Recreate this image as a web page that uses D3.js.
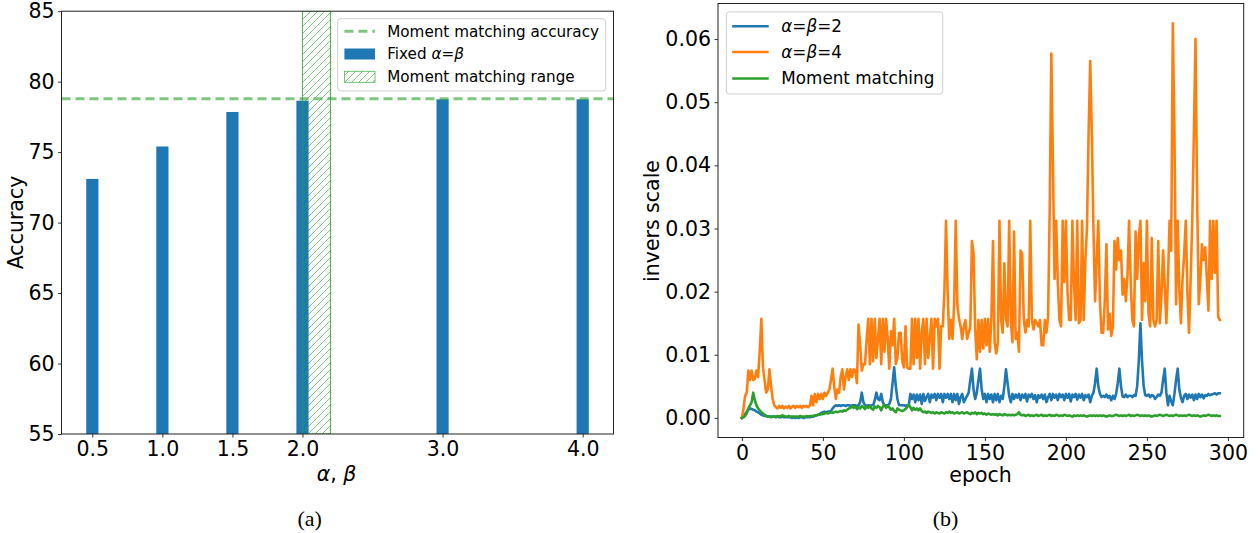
<!DOCTYPE html>
<html><head><meta charset="utf-8">
<script src="https://cdn.jsdelivr.net/npm/d3@7"></script>
<style>
html,body{margin:0;padding:0;background:#fff;}
text{font-family:"DejaVu Sans",sans-serif;fill:#000;}
.cap{font-family:"Liberation Serif","Times New Roman",serif;}
</style></head>
<body><svg id="c" width="1260" height="533"></svg>
<script>
// ---------- Panel (a) data ----------
const alphaValues = [0.5, 1.0, 1.5, 2.0, 3.0, 4.0];
const fixedAccuracy = [73.1, 75.4, 77.85, 78.65, 78.75, 78.75];
const momentAccuracy = 78.78;
const momentRange = [2.0, 2.2];
const accTicks = [55, 60, 65, 70, 75, 80, 85];

// ---------- Panel (b) data (epoch 0..295) ----------
const seriesNames = ["α=β=2", "α=β=4", "Moment matching"];
const invAB2 = [
0,0.0002,0.0006,0.001,0.0013,0.0015,0.0014,0.0013,0.0012,0.001,
0.0009,0.0007,0.0005,0.0004,0.0003,0.0003,0.0002,0.0002,0.0002,0.0002,
0.0002,0.0001,0.0002,0.0001,0.0001,0.0002,0.0001,0.0001,0.0001,0.0001,
0.0001,0,0.0001,0,0.0001,0,0.0001,0.0001,0,0.0001,
0.0001,0.0001,0.0001,0.0002,0.0002,0.0003,0.0004,0.0005,0.0006,0.0008,
0.0009,0.001,0.0009,0.001,0.001,0.0011,0.0015,0.0018,0.002,0.0019,
0.002,0.0019,0.002,0.002,0.0019,0.002,0.002,0.0019,0.002,0.002,
0.002,0.0019,0.002,0.0025,0.004,0.0025,0.002,0.0019,0.002,0.0019,
0.002,0.002,0.0028,0.004,0.003,0.0028,0.0038,0.0025,0.002,0.002,
0.002,0.0022,0.003,0.0055,0.008,0.005,0.003,0.002,0.002,0.002,
0.002,0.0019,0.002,0.002,0.0038,0.003,0.0037,0.0025,0.0037,0.0028,
0.0037,0.0022,0.0038,0.0027,0.0033,0.0038,0.0025,0.0037,0.0032,0.0038,
0.0028,0.0038,0.0032,0.0038,0.0025,0.0038,0.0032,0.0038,0.003,0.0038,
0.0025,0.0038,0.0028,0.0038,0.0022,0.0033,0.0038,0.0025,0.003,0.0035,
0.004,0.006,0.0078,0.0045,0.003,0.004,0.006,0.0078,0.0045,0.003,
0.0038,0.0025,0.0038,0.003,0.0037,0.0025,0.0038,0.0028,0.0038,0.0025,
0.0035,0.003,0.005,0.0077,0.0055,0.0035,0.0025,0.0038,0.003,0.0037,
0.0032,0.0038,0.0028,0.0037,0.0032,0.0038,0.0026,0.0037,0.0033,0.0038,
0.003,0.0036,0.0025,0.0036,0.0032,0.0037,0.003,0.0037,0.0025,0.0033,
0.0038,0.0028,0.0038,0.0032,0.0037,0.0028,0.0038,0.0033,0.0037,0.0028,
0.0038,0.0032,0.0038,0.0026,0.0037,0.0033,0.0038,0.0029,0.0037,0.0032,
0.0038,0.0028,0.0036,0.0033,0.0037,0.0025,0.0035,0.004,0.0055,0.0078,
0.005,0.0038,0.0033,0.0035,0.0033,0.0037,0.0032,0.0035,0.0028,0.0035,
0.003,0.0038,0.0055,0.0078,0.005,0.0034,0.0033,0.0037,0.0033,0.0035,
0.0035,0.0033,0.0036,0.0035,0.005,0.009,0.015,0.009,0.005,0.0036,
0.0035,0.0037,0.0033,0.0036,0.0035,0.003,0.0033,0.0037,0.0035,0.004,
0.006,0.0078,0.004,0.002,0.0035,0.0026,0.002,0.0038,0.006,0.0078,
0.0045,0.0032,0.0025,0.0035,0.0038,0.003,0.0037,0.0032,0.0037,0.0028,
0.0037,0.003,0.0038,0.0033,0.0037,0.0031,0.0036,0.0035,0.0038,0.0036,
0.0037,0.0038,0.0039,0.0037,0.0039,0.0039];
const invAB4 = [
0,0.0015,0.0035,0.004,0.0075,0.006,0.0075,0.006,0.0062,0.0075,
0.0065,0.0105,0.0157,0.008,0.006,0.004,0.0045,0.0077,0.005,0.003,
0.002,0.0017,0.0015,0.0019,0.0016,0.0019,0.0015,0.0018,0.0016,0.0019,
0.0015,0.0018,0.0019,0.0016,0.0019,0.0017,0.0019,0.0016,0.0019,0.0018,
0.0019,0.0017,0.002,0.0035,0.002,0.0038,0.0025,0.0038,0.003,0.0038,
0.003,0.004,0.0035,0.004,0.0045,0.006,0.0078,0.005,0.003,0.0045,
0.004,0.0065,0.0077,0.0045,0.0065,0.0077,0.006,0.0077,0.0065,0.0077,
0.0075,0.0055,0.0148,0.0115,0.0075,0.0085,0.0085,0.0125,0.0157,0.0085,
0.0157,0.009,0.0157,0.0095,0.0125,0.0157,0.0085,0.0157,0.0105,0.0157,
0.0125,0.0078,0.0137,0.0115,0.0157,0.0085,0.0095,0.0135,0.0135,0.009,
0.008,0.0145,0.008,0.0078,0.0078,0.0157,0.0085,0.0157,0.0095,0.0157,
0.0078,0.0135,0.0157,0.0085,0.0157,0.0095,0.0125,0.0157,0.0078,0.0157,
0.0145,0.0157,0.0078,0.0145,0.0145,0.02,0.0312,0.02,0.0125,0.0155,
0.0125,0.018,0.0312,0.018,0.0157,0.0145,0.0125,0.0145,0.0155,0.0125,
0.0135,0.0145,0.028,0.026,0.014,0.0093,0.0155,0.0105,0.0155,0.011,
0.0157,0.0115,0.0157,0.0105,0.0157,0.028,0.012,0.0102,0.012,0.0312,
0.0155,0.0135,0.0245,0.0157,0.0145,0.0312,0.0155,0.012,0.0295,0.0125,
0.0135,0.0105,0.0265,0.026,0.0157,0.0135,0.0155,0.0145,0.0312,0.0155,
0.014,0.0155,0.015,0.0145,0.0155,0.0115,0.0115,0.0155,0.0135,0.016,
0.033,0.0577,0.04,0.022,0.0312,0.0215,0.0155,0.0145,0.0312,0.0215,
0.0312,0.02,0.0155,0.0155,0.0312,0.0215,0.0155,0.0312,0.015,0.0155,
0.0312,0.0155,0.025,0.03,0.045,0.0565,0.045,0.03,0.0185,0.025,
0.0312,0.0185,0.0135,0.0135,0.0185,0.0275,0.014,0.0165,0.013,0.0145,
0.028,0.0235,0.0285,0.025,0.0265,0.0195,0.022,0.0185,0.0225,0.0312,
0.0215,0.0155,0.0145,0.0295,0.022,0.0285,0.0312,0.0155,0.0245,0.0185,
0.0312,0.0165,0.0145,0.0285,0.0155,0.0145,0.0155,0.028,0.015,0.0195,
0.0265,0.021,0.015,0.022,0.0312,0.0265,0.0625,0.045,0.018,0.0312,
0.0205,0.015,0.022,0.026,0.0312,0.02,0.0135,0.022,0.0312,0.045,
0.06,0.035,0.018,0.022,0.0275,0.025,0.027,0.022,0.017,0.0312,
0.022,0.0312,0.023,0.0312,0.016,0.0155];
const invMoment = [
0,0.0001,0.0003,0.0008,0.0015,0.002,0.0025,0.004,0.0028,0.002,
0.0015,0.0012,0.0009,0.0007,0.0005,0.0003,0.0002,0.0002,0.0001,0.0002,
0.0002,0.0002,0.0003,0.0002,0.0003,0.0004,0.0003,0.0002,0.0002,0.0003,
0.0002,0.0002,0.0002,0.0002,0.0002,0.0002,0.0003,0.0002,0.0002,0.0002,
0.0003,0.0002,0.0003,0.0003,0.0003,0.0004,0.0004,0.0005,0.0005,0.0006,
0.0006,0.0007,0.0008,0.0007,0.0008,0.0009,0.0008,0.0009,0.001,0.0009,
0.001,0.0011,0.001,0.0012,0.0011,0.0013,0.0015,0.0016,0.0019,0.0016,
0.0018,0.0014,0.0017,0.0015,0.0019,0.0017,0.0014,0.0018,0.0016,0.0019,
0.0015,0.0013,0.0018,0.0016,0.0019,0.0017,0.0012,0.0018,0.0021,0.0016,
0.0019,0.0017,0.0013,0.0015,0.0011,0.0009,0.0015,0.0013,0.0012,0.0011,
0.0012,0.0014,0.0017,0.0021,0.0017,0.0012,0.0016,0.0013,0.0015,0.0012,
0.0015,0.0011,0.0009,0.001,0.0008,0.001,0.0009,0.0008,0.0009,0.0007,
0.0009,0.0008,0.0007,0.0009,0.0008,0.0007,0.0009,0.0008,0.001,0.0008,
0.0009,0.0007,0.0008,0.0009,0.0007,0.0008,0.0009,0.0007,0.0008,0.0009,
0.0007,0.0006,0.0008,0.0007,0.0009,0.0006,0.0008,0.0007,0.0008,0.0006,
0.0007,0.0005,0.0007,0.0006,0.0005,0.0006,0.0005,0.0006,0.0004,0.0006,
0.0005,0.0004,0.0006,0.0005,0.0004,0.0005,0.0004,0.0005,0.0004,0.0005,
0.0006,0.0009,0.0005,0.0004,0.0005,0.0003,0.0004,0.0005,0.0003,0.0004,
0.0003,0.0004,0.0005,0.0003,0.0004,0.0005,0.0003,0.0004,0.0003,0.0004,
0.0005,0.0003,0.0004,0.0003,0.0005,0.0004,0.0003,0.0004,0.0003,0.0005,
0.0004,0.0003,0.0004,0.0003,0.0002,0.0004,0.0003,0.0004,0.0003,0.0004,
0.0003,0.0004,0.0003,0.0002,0.0003,0.0004,0.0003,0.0004,0.0003,0.0004,
0.0003,0.0004,0.0003,0.0004,0.0003,0.0002,0.0003,0.0004,0.0003,0.0003,
0.0004,0.0005,0.0004,0.0003,0.0004,0.0003,0.0004,0.0003,0.0004,0.0005,
0.0003,0.0004,0.0003,0.0004,0.0005,0.0004,0.0003,0.0004,0.0003,0.0004,
0.0003,0.0004,0.0003,0.0002,0.0003,0.0004,0.0003,0.0004,0.0005,0.0004,
0.0003,0.0004,0.0005,0.0004,0.0003,0.0004,0.0003,0.0004,0.0005,0.0004,
0.0003,0.0004,0.0003,0.0004,0.0003,0.0004,0.0005,0.0004,0.0003,0.0004,
0.0003,0.0004,0.0003,0.0002,0.0003,0.0004,0.0003,0.0004,0.0005,0.0004,
0.0003,0.0004,0.0003,0.0004,0.0003,0.0003];
const invTicks = [0.00, 0.01, 0.02, 0.03, 0.04, 0.05, 0.06];
const epochTicks = [0, 50, 100, 150, 200, 250, 300];

const C_BLUE = "#1f77b4", C_ORANGE = "#ff7f0e", C_GREEN = "#2ca02c";
const TICK_FS = 20.5;
const svg = d3.select("#c");
const defs = svg.append("defs");
const pat = defs.append("pattern").attr("id","hatch").attr("patternUnits","userSpaceOnUse")
  .attr("width",7).attr("height",7);
pat.append("path").attr("d","M-1,1 l2,-2 M0,7 l7,-7 M6,8 l2,-2")
  .attr("stroke",C_GREEN).attr("stroke-width",0.8).attr("stroke-opacity",0.75);

function styleAxis(g){
  g.selectAll(".domain").remove();
  g.selectAll(".tick line").attr("stroke","#000").attr("stroke-width",0.8);
  g.selectAll(".tick text").attr("font-family","DejaVu Sans").attr("font-size",TICK_FS).attr("fill","#000");
}

// ================= Panel (a) =================
const A = {l:61.5, r:613.5, t:11.2, b:434};
const xA = d3.scaleLinear().domain([0.28, 4.22]).range([A.l, A.r]);
const yA = d3.scaleLinear().domain([55, 85]).range([A.b, A.t]);
const barW = 0.087;
const gA = svg.append("g");
gA.append("defs").append("clipPath").attr("id","clipA").append("rect")
  .attr("x",A.l).attr("y",A.t).attr("width",A.r-A.l).attr("height",A.b-A.t);
const plotA = gA.append("g").attr("clip-path","url(#clipA)");
plotA.selectAll("rect.bar").data(alphaValues).join("rect").attr("class","bar")
  .attr("x",d=>xA(d-barW/2)).attr("width",d=>xA(d+barW/2)-xA(d-barW/2))
  .attr("y",(d,i)=>yA(fixedAccuracy[i])).attr("height",(d,i)=>yA(55)-yA(fixedAccuracy[i]))
  .attr("fill",C_BLUE);
plotA.append("rect").attr("x",xA(momentRange[0])).attr("width",xA(momentRange[1])-xA(momentRange[0]))
  .attr("y",A.t).attr("height",A.b-A.t).attr("fill","url(#hatch)")
  .attr("stroke",C_GREEN).attr("stroke-width",1).attr("stroke-opacity",0.8);
plotA.append("line").attr("x1",A.l).attr("x2",A.r).attr("y1",yA(momentAccuracy)).attr("y2",yA(momentAccuracy))
  .attr("stroke",C_GREEN).attr("stroke-opacity",0.6).attr("stroke-width",3).attr("stroke-dasharray","9,5");
gA.append("g").attr("transform",`translate(0,${A.b})`)
  .call(d3.axisBottom(xA).tickValues(alphaValues).tickFormat(d3.format(".1f")).tickSize(3.5).tickPadding(4))
  .call(styleAxis);
gA.append("g").attr("transform",`translate(${A.l},0)`)
  .call(d3.axisLeft(yA).tickValues(accTicks).tickFormat(d3.format("d")).tickSize(3.5).tickPadding(3.5))
  .call(styleAxis);
gA.append("rect").attr("x",A.l).attr("y",A.t).attr("width",A.r-A.l).attr("height",A.b-A.t)
  .attr("fill","none").attr("stroke","#222").attr("stroke-width",1);
gA.append("text").attr("transform","translate(16,222.5) rotate(-90)").attr("text-anchor","middle")
  .attr("dy","0.35em").attr("font-size",20.5).text("Accuracy");
const xlA = gA.append("text").attr("x",336.5).attr("y",474).attr("dy","0.35em").attr("text-anchor","middle").attr("font-size",20.5);
xlA.append("tspan").attr("font-style","italic").text("α");
xlA.append("tspan").text(", ");
xlA.append("tspan").attr("font-style","italic").text("β");
gA.append("text").attr("class","cap").attr("x",309.6).attr("y",518).attr("dy","0.35em")
  .attr("text-anchor","middle").attr("font-size",22).text("(a)");
// legend (a)
const LA = gA.append("g");
LA.append("rect").attr("x",337.7).attr("y",18.7).attr("width",268).attr("height",72.3).attr("rx",3)
  .attr("fill","#fff").attr("fill-opacity",0.8).attr("stroke","#d0d0d0").attr("stroke-width",1);
const legAy = [31.2, 54, 76.8];
LA.append("line").attr("x1",344.4).attr("x2",375).attr("y1",legAy[0]).attr("y2",legAy[0])
  .attr("stroke",C_GREEN).attr("stroke-opacity",0.6).attr("stroke-width",3).attr("stroke-dasharray","9,5");
LA.append("rect").attr("x",344.4).attr("y",legAy[1]-5.5).attr("width",30.6).attr("height",11).attr("fill",C_BLUE);
LA.append("rect").attr("x",344.4).attr("y",legAy[2]-5.5).attr("width",30.6).attr("height",11)
  .attr("fill","url(#hatch)").attr("stroke",C_GREEN).attr("stroke-width",0.8).attr("stroke-opacity",0.8);
LA.append("text").attr("x",387.2).attr("y",legAy[0]).attr("dy","0.35em").attr("font-size",15.2).text("Moment matching accuracy");
const t2 = LA.append("text").attr("x",387.2).attr("y",legAy[1]).attr("dy","0.35em").attr("font-size",15.2);
t2.append("tspan").text("Fixed ");
t2.append("tspan").attr("font-style","italic").text("α");
t2.append("tspan").text("=");
t2.append("tspan").attr("font-style","italic").text("β");
LA.append("text").attr("x",387.2).attr("y",legAy[2]).attr("dy","0.35em").attr("font-size",15.2).text("Moment matching range");

// ================= Panel (b) =================
const B = {l:718, r:1243.7, t:3.5, b:437.5};
const xB = d3.scaleLinear().domain([-14.75, 309.75]).range([B.l, B.r]);
const yB = d3.scaleLinear().domain([-0.0031, 0.06563]).range([B.b, B.t]);
const gB = svg.append("g");
gB.append("defs").append("clipPath").attr("id","clipB").append("rect")
  .attr("x",B.l).attr("y",B.t).attr("width",B.r-B.l).attr("height",B.b-B.t);
const plotB = gB.append("g").attr("clip-path","url(#clipB)");
const lineGen = d3.line().x((d,i)=>xB(i)).y(d=>yB(d));
const seriesData = [invAB2, invAB4, invMoment];
const seriesColors = [C_BLUE, C_ORANGE, C_GREEN];
seriesData.forEach((s,k)=>{
  plotB.append("path").datum(s).attr("d",lineGen).attr("fill","none")
    .attr("stroke",seriesColors[k]).attr("stroke-width",2.6).attr("stroke-linejoin","round").attr("stroke-linecap","square");
});
gB.append("g").attr("transform",`translate(0,${B.b})`)
  .call(d3.axisBottom(xB).tickValues(epochTicks).tickFormat(d3.format("d")).tickSize(3.5).tickPadding(4))
  .call(styleAxis);
gB.append("g").attr("transform",`translate(${B.l},0)`)
  .call(d3.axisLeft(yB).tickValues(invTicks).tickFormat(d3.format(".2f")).tickSize(3.5).tickPadding(3.5))
  .call(styleAxis);
gB.append("rect").attr("x",B.l).attr("y",B.t).attr("width",B.r-B.l).attr("height",B.b-B.t)
  .attr("fill","none").attr("stroke","#222").attr("stroke-width",1);
gB.append("text").attr("transform","translate(652,221) rotate(-90)").attr("text-anchor","middle")
  .attr("dy","0.35em").attr("font-size",20.5).text("invers scale");
gB.append("text").attr("x",980.5).attr("y",475).attr("dy","0.35em").attr("text-anchor","middle")
  .attr("font-size",20.5).text("epoch");
gB.append("text").attr("class","cap").attr("x",945.6).attr("y",518).attr("dy","0.35em")
  .attr("text-anchor","middle").attr("font-size",22).text("(b)");
// legend (b)
const LB = gB.append("g");
LB.append("rect").attr("x",726.3).attr("y",11.9).attr("width",216.5).attr("height",82.1).attr("rx",3)
  .attr("fill","#fff").attr("fill-opacity",0.8).attr("stroke","#d0d0d0").attr("stroke-width",1);
const legBy = [26.2, 52, 78.5];
seriesNames.forEach((n,k)=>{
  LB.append("line").attr("x1",732.2).attr("x2",768.7).attr("y1",legBy[k]).attr("y2",legBy[k])
    .attr("stroke",seriesColors[k]).attr("stroke-width",2.6);
  const t = LB.append("text").attr("x",781.3).attr("y",legBy[k]).attr("dy","0.35em").attr("font-size",16.8);
  if (k < 2) {
    const parts = n.split("=");
    t.append("tspan").attr("font-style","italic").text(parts[0]);
    t.append("tspan").text("=");
    t.append("tspan").attr("font-style","italic").text(parts[1]);
    t.append("tspan").text("=" + parts[2]);
  } else {
    t.text(n);
  }
});
</script></body></html>
